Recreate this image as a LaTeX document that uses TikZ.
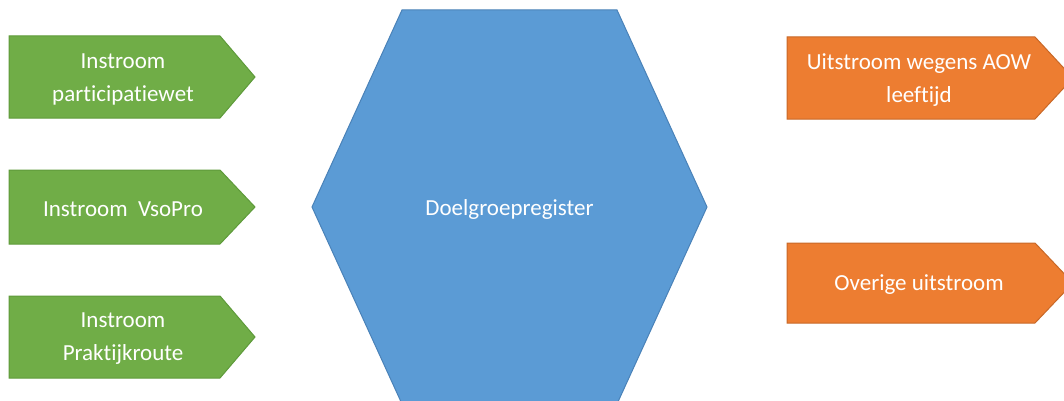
\documentclass[tikz,border=0pt]{standalone}
\usepackage{fontspec}
\setmainfont{Carlito}[Ligatures=NoCommon]
\usetikzlibrary{positioning}

\definecolor{instroomgreen}{HTML}{70AD47}
\definecolor{instroomline}{HTML}{5E9A3A}
\definecolor{registerblue}{HTML}{5B9BD5}
\definecolor{registerline}{HTML}{4A82B8}
\definecolor{uitstroomorange}{HTML}{ED7D31}
\definecolor{uitstroomline}{HTML}{C86828}

\begin{document}
\begin{tikzpicture}[x=1pt, y=-1pt, line width=1pt,
    every node/.style={text=white, align=center, font=\fontsize{23}{33}\selectfont}]

\useasboundingbox (0,0) rectangle (1064,401);
\clip (0,0) rectangle (1064,401);

% Instroom arrows
\foreach \i/\ya/\yb/\txt in {1/36/118/{Instroom\\participatiewet}, 2/170/244/{Instroom~~VsoPro}, 3/296/378/{Instroom\\Praktijkroute}} {
    \draw[fill=instroomgreen, draw=instroomline] (9,\ya) -- (220,\ya) -- (255,{(\ya+\yb)/2}) -- (220,\yb) -- (9,\yb) -- cycle;
    \node (in\i) at (123,{(\ya+\yb)/2+2}) {\txt};
}

% Doelgroepregister hexagon
\draw[fill=registerblue, draw=registerline] (402,10) -- (617,10) -- (707,207) -- (617,404) -- (402,404) -- (312,207) -- cycle;
\node (register) at (509.5,209) {Doelgroepregister};

% Uitstroom arrows
\foreach \i/\ya/\yb/\txt in {1/37/119/{Uitstroom wegens AOW\\leeftijd}, 2/243/323/{Overige uitstroom}} {
    \draw[fill=uitstroomorange, draw=uitstroomline] (787,\ya) -- (1035,\ya) -- (1073,{(\ya+\yb)/2}) -- (1035,\yb) -- (787,\yb) -- cycle;
    \node (out\i) at (919,{(\ya+\yb)/2+2}) {\txt};
}

\end{tikzpicture}
\end{document}
